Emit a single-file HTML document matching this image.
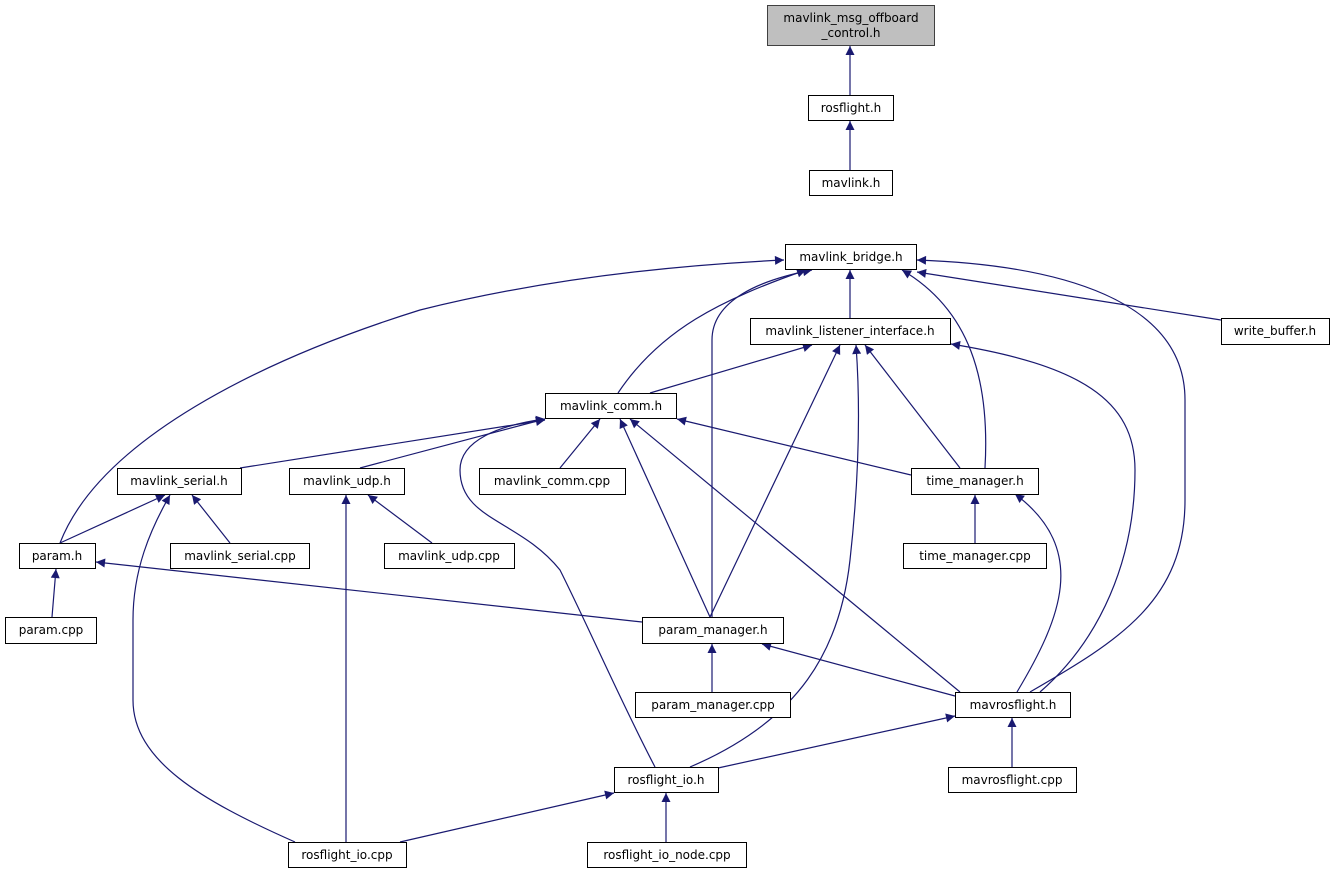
<!DOCTYPE html>
<html><head><meta charset="utf-8"><style>
html,body{margin:0;padding:0;background:#fff;}
svg{display:block;}
text{font-family:"DejaVu Sans","Liberation Sans",sans-serif;font-size:12px;fill:#000;}
</style></head><body>
<svg width="1335" height="873" viewBox="0 0 1335 873" xmlns="http://www.w3.org/2000/svg">
<defs>
<marker id="a" viewBox="0 0 10 10" refX="10" refY="5" markerWidth="10" markerHeight="9" markerUnits="userSpaceOnUse" orient="auto">
<path d="M0,0 L10,5 L0,10 z" fill="#191970"/>
</marker>
</defs>
<g fill="none" stroke="#191970" stroke-width="1.2" marker-end="url(#a)">
<path d="M850,95 L850,46"/>
<path d="M850,170 L850,121"/>
<path d="M850,244 L850,270"/>
<path d="M850,318 L850,270"/>
<path d="M1221,320 L917,272"/>
<path d="M60,543 C100,440 260,360 420,310 C560,275 700,264 784,260"/>
<path d="M618,393 C660,330 720,300 806,270"/>
<path d="M712,617 L712,340 C712,300 760,280 812,270"/>
<path d="M985,468 C990,380 970,310 902,270"/>
<path d="M1030,692 C1120,640 1185,600 1185,500 L1185,400 C1185,300 1060,265 917,260"/>
<path d="M650,393 L812,345"/>
<path d="M710,617 L840,345"/>
<path d="M690,767 C800,720 840,650 850,560 C860,470 860,400 856,345"/>
<path d="M960,468 L865,345"/>
<path d="M1040,692 C1100,640 1135,560 1135,470 C1135,400 1080,365 951,344"/>
<path d="M240,468 L545,420"/>
<path d="M360,468 L545,419"/>
<path d="M655,767 C620,700 590,630 560,570 C520,520 460,520 460,470 C460,440 500,425 545,419"/>
<path d="M560,468 L600,419"/>
<path d="M710,617 L620,419"/>
<path d="M911,475 L677,419"/>
<path d="M960,692 L630,419"/>
<path d="M60,543 L165,495"/>
<path d="M230,543 L192,495"/>
<path d="M295,842 C200,800 133,760 133,700 L133,620 C133,570 150,530 170,495"/>
<path d="M346,842 L346,495"/>
<path d="M432,543 L368,495"/>
<path d="M975,543 L975,495"/>
<path d="M1017,692 C1060,620 1090,550 1015,494"/>
<path d="M642,622 L96,562"/>
<path d="M52,617 L56,569"/>
<path d="M712,692 L712,644"/>
<path d="M955,696 L762,644"/>
<path d="M1012,767 L1012,718"/>
<path d="M718,768 L955,716"/>
<path d="M666,842 L666,793"/>
<path d="M400,842 L614,793"/>
</g>
<g stroke="#000" stroke-width="1" fill="#fff">
<rect x="767.5" y="5.5" width="167" height="40" fill="#bfbfbf" stroke="#404040"/>
<rect x="808.5" y="95.5" width="85" height="25"/>
<rect x="809.5" y="170.5" width="83" height="25"/>
<rect x="785.5" y="244.5" width="131" height="25"/>
<rect x="750.5" y="318.5" width="200" height="26"/>
<rect x="1221.5" y="318.5" width="108" height="26"/>
<rect x="545.5" y="393.5" width="131" height="25"/>
<rect x="117.5" y="468.5" width="124" height="26"/>
<rect x="289.5" y="468.5" width="115" height="26"/>
<rect x="479.5" y="468.5" width="146" height="26"/>
<rect x="911.5" y="468.5" width="127" height="26"/>
<rect x="19.5" y="543.5" width="76" height="25"/>
<rect x="170.5" y="543.5" width="139" height="25"/>
<rect x="384.5" y="543.5" width="130" height="25"/>
<rect x="903.5" y="543.5" width="143" height="25"/>
<rect x="5.5" y="617.5" width="91" height="26"/>
<rect x="642.5" y="617.5" width="141" height="26"/>
<rect x="635.5" y="692.5" width="155" height="25"/>
<rect x="955.5" y="692.5" width="115" height="25"/>
<rect x="614.5" y="767.5" width="104" height="25"/>
<rect x="948.5" y="767.5" width="128" height="25"/>
<rect x="288.5" y="842.5" width="118" height="25"/>
<rect x="587.5" y="842.5" width="159" height="25"/>
</g>
<g text-anchor="middle">
<text x="851" y="22">mavlink_msg_offboard</text>
<text x="851" y="37">_control.h</text>
<text x="851" y="112">rosflight.h</text>
<text x="851" y="187">mavlink.h</text>
<text x="851" y="261">mavlink_bridge.h</text>
<text x="850" y="335">mavlink_listener_interface.h</text>
<text x="1275" y="335">write_buffer.h</text>
<text x="611" y="410">mavlink_comm.h</text>
<text x="179" y="485">mavlink_serial.h</text>
<text x="347" y="485">mavlink_udp.h</text>
<text x="552" y="485">mavlink_comm.cpp</text>
<text x="975" y="485">time_manager.h</text>
<text x="57" y="560">param.h</text>
<text x="240" y="560">mavlink_serial.cpp</text>
<text x="449" y="560">mavlink_udp.cpp</text>
<text x="975" y="560">time_manager.cpp</text>
<text x="51" y="634">param.cpp</text>
<text x="713" y="634">param_manager.h</text>
<text x="713" y="709">param_manager.cpp</text>
<text x="1013" y="709">mavrosflight.h</text>
<text x="666" y="784">rosflight_io.h</text>
<text x="1012" y="784">mavrosflight.cpp</text>
<text x="347" y="859">rosflight_io.cpp</text>
<text x="667" y="859">rosflight_io_node.cpp</text>
</g>
</svg>
</body></html>
